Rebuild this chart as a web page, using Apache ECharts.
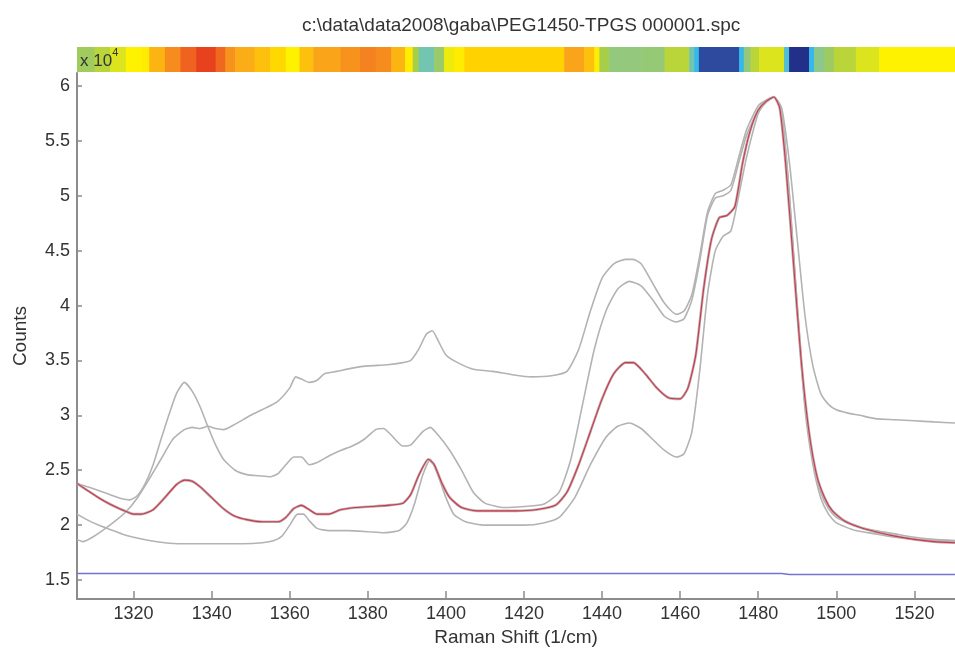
<!DOCTYPE html>
<html>
<head>
<meta charset="utf-8">
<script src="https://cdn.jsdelivr.net/npm/echarts@6/dist/echarts.min.js"></script>
<style>
html,body{margin:0;padding:0;background:#fff;}
#chart{width:955px;height:652px;}
</style>
</head>
<body>
<div id="chart"></div>
<script>
// ---- axis ranges ----
const X_MIN = 1305.5;
const X_MAX = 1530.4;
const Y_MIN = 1.327;
const Y_MAX = 6.118;

// ---- colour bar (start wavenumber, colour value 0..1) ----
const cbStart = [1305.5,1310,1314,1318,1322,1324,1328,1332,1336,1341,1343.5,1346,1351,1355,1359,1362.5,1366,1373,1378,1382,1386,1389.5,1391.5,1393,1397,1399.5,1402,1404.7,1430.3,1435.4,1438,1439.3,1441.8,1450,1456,1462.3,1463.6,1464.8,1475.1,1476.3,1478,1480.2,1486.6,1487.9,1493,1494.3,1497,1499.4,1505,1511];
const cbValue = [0.47,0.52,0.56,0.6,0.62,0.78,0.88,0.95,1.0,0.94,0.86,0.8,0.75,0.68,0.6,0.75,0.82,0.86,0.9,0.88,0.78,0.62,0.5,0.32,0.45,0.58,0.62,0.7,0.82,0.75,0.62,0.5,0.42,0.43,0.52,0.32,0.2,0.1,0.2,0.42,0.52,0.56,0.25,0.02,0.2,0.4,0.46,0.52,0.56,0.6];

// ---- spectra [wavenumber, counts x 1e4] ----
const spectrumTop = [[1305.5,1.87],[1307,1.85],[1309,1.88],[1312,1.95],[1315,2.03],[1318,2.12],[1321,2.25],[1324,2.42],[1327,2.6],[1330,2.78],[1333,2.87],[1335,2.89],[1337,2.88],[1339,2.9],[1341,2.88],[1343,2.87],[1346,2.92],[1350,3.0],[1354,3.07],[1357,3.13],[1360,3.25],[1361.5,3.35],[1363,3.33],[1365,3.3],[1367,3.32],[1369,3.38],[1372,3.4],[1376,3.43],[1380,3.45],[1385,3.46],[1389,3.48],[1391,3.5],[1393,3.6],[1395,3.74],[1396.5,3.77],[1398,3.68],[1400,3.55],[1403,3.48],[1407,3.42],[1412,3.4],[1417,3.37],[1422,3.35],[1427,3.36],[1431,3.4],[1434,3.6],[1437,3.95],[1440,4.25],[1443,4.38],[1446,4.42],[1448,4.42],[1450,4.38],[1453,4.2],[1456,4.02],[1459,3.92],[1461,3.95],[1463,4.1],[1465,4.45],[1467,4.85],[1469,5.02],[1471,5.05],[1473,5.1],[1475,5.35],[1477,5.6],[1480,5.82],[1482,5.87],[1484,5.9],[1486,5.8],[1488,5.3],[1490,4.6],[1492,3.9],[1494,3.45],[1496,3.2],[1498,3.1],[1500,3.05],[1503,3.02],[1506,3.0],[1510,2.97],[1515,2.96],[1520,2.95],[1525,2.94],[1530.4,2.93]];

const spectrumPeak = [[1305.5,2.38],[1309,2.34],[1313,2.29],[1317,2.24],[1319,2.23],[1321,2.27],[1323,2.38],[1325,2.55],[1327,2.78],[1329,3.0],[1331,3.2],[1333,3.3],[1335,3.22],[1337,3.08],[1339,2.9],[1341,2.73],[1343,2.6],[1346,2.5],[1349,2.46],[1352,2.45],[1355,2.44],[1357,2.47],[1359,2.55],[1361,2.62],[1363,2.62],[1365,2.55],[1367,2.57],[1370,2.63],[1373,2.68],[1376,2.72],[1379,2.78],[1382,2.87],[1384,2.88],[1386,2.82],[1389,2.72],[1391,2.73],[1394,2.85],[1396,2.89],[1398,2.82],[1401,2.68],[1404,2.5],[1407,2.3],[1410,2.2],[1415,2.16],[1420,2.17],[1425,2.19],[1429,2.3],[1432,2.6],[1435,3.1],[1438,3.6],[1441,3.95],[1444,4.15],[1447,4.22],[1450,4.18],[1453,4.05],[1456,3.9],[1459,3.85],[1461,3.88],[1463,4.05],[1465,4.4],[1467,4.82],[1469,4.98],[1471,5.0],[1473,5.05],[1475,5.3],[1477,5.55],[1480,5.78],[1482,5.85],[1484,5.9],[1486,5.75],[1488,5.0],[1490,4.0],[1492,3.1],[1494,2.6],[1496,2.3],[1498,2.15],[1500,2.07],[1505,1.99],[1510,1.95],[1515,1.92],[1520,1.89],[1525,1.87],[1530.4,1.86]];

const spectrumLow = [[1305.5,2.1],[1308,2.05],[1311,2.0],[1314,1.96],[1317,1.92],[1320,1.89],[1324,1.86],[1328,1.84],[1332,1.83],[1340,1.83],[1348,1.83],[1353,1.84],[1356,1.86],[1358,1.9],[1360,2.0],[1362,2.1],[1363.5,2.1],[1365,2.04],[1367,1.97],[1370,1.95],[1375,1.95],[1380,1.94],[1384,1.93],[1388,1.95],[1390,2.02],[1392,2.2],[1394,2.45],[1396,2.6],[1398,2.45],[1400,2.25],[1402,2.1],[1405,2.03],[1410,2.0],[1415,2.0],[1420,2.0],[1425,2.02],[1429,2.07],[1433,2.25],[1437,2.55],[1441,2.8],[1444,2.9],[1447,2.93],[1450,2.88],[1453,2.78],[1456,2.68],[1459,2.62],[1461,2.65],[1463,2.85],[1465,3.4],[1467,4.1],[1469,4.5],[1471,4.63],[1473,4.68],[1475,5.0],[1477,5.35],[1480,5.75],[1482,5.85],[1484,5.9],[1486,5.75],[1488,5.0],[1490,3.95],[1492,3.05],[1494,2.55],[1496,2.25],[1498,2.1],[1500,2.02],[1505,1.95],[1510,1.92],[1515,1.89],[1520,1.87],[1525,1.86],[1530.4,1.85]];

const spectrumFit = [[1305.5,2.38],[1308,2.32],[1311,2.25],[1314,2.19],[1317,2.14],[1320,2.1],[1322,2.1],[1325,2.14],[1328,2.25],[1331,2.37],[1333,2.41],[1335,2.4],[1337,2.35],[1340,2.25],[1343,2.15],[1346,2.08],[1349,2.05],[1353,2.03],[1357,2.03],[1359,2.07],[1361,2.15],[1363,2.18],[1365,2.14],[1367,2.1],[1370,2.1],[1373,2.14],[1377,2.16],[1381,2.17],[1385,2.18],[1389,2.2],[1391,2.28],[1393,2.45],[1395.5,2.6],[1397,2.55],[1399,2.38],[1401,2.25],[1404,2.16],[1408,2.13],[1413,2.13],[1418,2.13],[1423,2.14],[1428,2.18],[1431,2.3],[1434,2.55],[1437,2.85],[1440,3.15],[1443,3.38],[1446,3.48],[1448,3.48],[1451,3.38],[1454,3.25],[1457,3.16],[1460,3.15],[1462,3.25],[1464,3.55],[1466,4.15],[1468,4.6],[1470,4.8],[1472,4.82],[1474,4.9],[1476,5.3],[1478,5.6],[1480,5.78],[1482,5.86],[1484,5.9],[1485.5,5.8],[1487,5.3],[1489,4.4],[1491,3.5],[1493,2.85],[1495,2.45],[1497,2.25],[1499,2.13],[1502,2.04],[1506,1.98],[1510,1.94],[1515,1.9],[1520,1.87],[1525,1.85],[1530.4,1.84]];

const baseline = [[1305.5,1.56],[1486,1.56],[1488,1.55],[1530.4,1.55]];

const titleText = 'c:\\data\\data2008\\gaba\\PEG1450-TPGS 000001.spc';

// colour bar segments built from arrays
const cbData = cbStart.map((s, i) => [s, i < cbStart.length - 1 ? cbStart[i + 1] : X_MAX, cbValue[i]]);

const FONT = 'Liberation Sans, Arial, sans-serif';
const chart = echarts.init(document.getElementById('chart'), null, {renderer: 'canvas'});

const grayLine = {type: 'line', xAxisIndex: 0, yAxisIndex: 0, showSymbol: false, symbol: 'none',
  smooth: 0.2, lineStyle: {color: '#b3b3b3', width: 1.6}, silent: true, z: 2};

chart.setOption({
  animation: false,
  backgroundColor: '#fff',
  title: {
    text: titleText, left: 297, top: 11,
    textStyle: {fontFamily: FONT, fontSize: 19, fontWeight: 'normal', color: '#333'}
  },
  visualMap: {
    show: false, type: 'continuous', seriesIndex: 0, dimension: 2, min: 0, max: 1,
    inRange: {color: ['#1f2a85', '#2e4a9f', '#35b8ea', '#6ec4b8', '#8ec78a', '#a7ce48', '#fff200', '#ffd200', '#fbad18', '#f58220', '#e8411d']}
  },
  grid: [
    {left: 77, right: 0, top: 73, bottom: 52},
    {left: 77, right: 0, top: 47, height: 25}
  ],
  xAxis: [
    {
      type: 'value', gridIndex: 0, min: X_MIN, max: X_MAX, splitNumber: 11,
      name: 'Raman Shift (1/cm)', nameLocation: 'middle', nameGap: 29,
      nameTextStyle: {fontFamily: FONT, fontSize: 19, color: '#333'},
      axisLine: {show: true, lineStyle: {color: '#8c8c8c', width: 2}},
      axisTick: {show: true, inside: true, length: 8, lineStyle: {color: '#8c8c8c', width: 1.5}},
      axisLabel: {fontFamily: FONT, fontSize: 18, color: '#333', margin: 6, showMinLabel: false, showMaxLabel: false,
        formatter: function (v) { return String(v); }},
      splitLine: {show: false}
    },
    {type: 'value', gridIndex: 1, min: X_MIN, max: X_MAX, show: false}
  ],
  yAxis: [
    {
      type: 'value', gridIndex: 0, min: Y_MIN, max: Y_MAX, splitNumber: 10,
      name: 'Counts', nameLocation: 'middle', nameGap: 47, nameRotate: 90,
      nameTextStyle: {fontFamily: FONT, fontSize: 19, color: '#333'},
      axisLine: {show: true, lineStyle: {color: '#8c8c8c', width: 2}},
      axisTick: {show: true, inside: true, length: 5, lineStyle: {color: '#8c8c8c', width: 1.5}},
      axisLabel: {fontFamily: FONT, fontSize: 18, color: '#333', margin: 7, showMinLabel: false, showMaxLabel: false},
      splitLine: {show: false}
    },
    {type: 'value', gridIndex: 1, min: 0, max: 1, show: false}
  ],
  graphic: [{
    type: 'text', left: 80, top: 47, z: 100,
    style: {
      text: '{a|x 10}{b|4}', fill: '#333',
      rich: {
        a: {fontFamily: FONT, fontSize: 17, fill: '#333', verticalAlign: 'bottom', lineHeight: 23},
        b: {fontFamily: FONT, fontSize: 11, fill: '#333', verticalAlign: 'top', lineHeight: 23}
      }
    }
  }],
  series: [
    {
      type: 'custom', xAxisIndex: 1, yAxisIndex: 1, data: cbData, silent: true,
      encode: {x: [0, 1], y: 2},
      renderItem: function (params, api) {
        const p0 = api.coord([api.value(0), 1]);
        const p1 = api.coord([api.value(1), 0]);
        return {type: 'rect', shape: {x: p0[0], y: p0[1], width: p1[0] - p0[0] + 0.6, height: p1[1] - p0[1]},
          style: {fill: api.visual('color')}};
      }
    },
    Object.assign({}, grayLine, {data: spectrumTop}),
    Object.assign({}, grayLine, {data: spectrumPeak}),
    Object.assign({}, grayLine, {data: spectrumLow}),
    Object.assign({}, grayLine, {data: spectrumFit, lineStyle: {color: '#b3b3b3', width: 2.6}}),
    Object.assign({}, grayLine, {data: spectrumFit, lineStyle: {color: '#d8334a', width: 1.1}, z: 3}),
    {type: 'line', xAxisIndex: 0, yAxisIndex: 0, data: baseline, showSymbol: false, symbol: 'none',
      lineStyle: {color: '#7373d2', width: 1.5}, silent: true, z: 2}
  ]
});
</script>
</body>
</html>
